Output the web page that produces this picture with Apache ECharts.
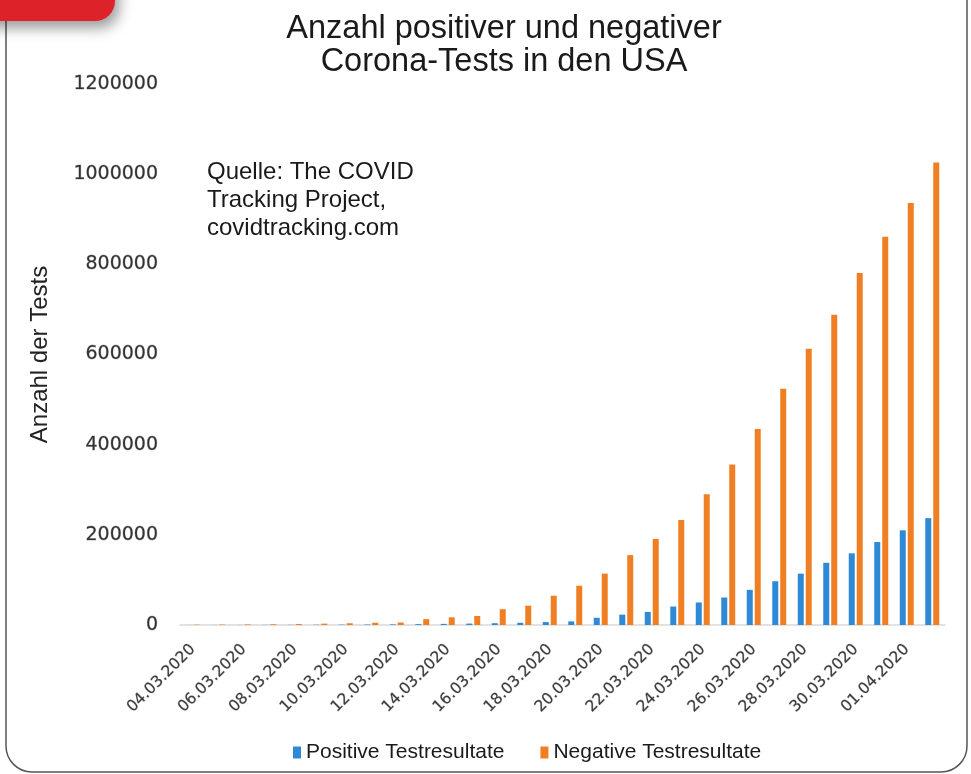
<!DOCTYPE html>
<html><head><meta charset="utf-8">
<script src="https://cdn.jsdelivr.net/npm/echarts@6/dist/echarts.min.js"></script>
<style>html,body{margin:0;padding:0;background:#fff}#c{width:971px;height:774px}</style>
</head><body><div id="c"></div>
<script>
const categories = ['04.03.2020','05.03.2020','06.03.2020','07.03.2020','08.03.2020','09.03.2020','10.03.2020','11.03.2020','12.03.2020','13.03.2020','14.03.2020','15.03.2020','16.03.2020','17.03.2020','18.03.2020','19.03.2020','20.03.2020','21.03.2020','22.03.2020','23.03.2020','24.03.2020','25.03.2020','26.03.2020','27.03.2020','28.03.2020','29.03.2020','30.03.2020','31.03.2020','01.04.2020','02.04.2020'];
const positive = [118,176,223,341,417,584,778,1053,1315,1922,2450,3173,4019,5000,6500,8000,16000,23000,29000,41000,50000,61000,78000,97000,114000,138000,159000,184000,210000,237000];
const negative = [700,900,1300,1700,2300,3000,3900,5000,5500,13000,17000,20000,35000,43000,65000,87000,114000,155000,191000,233000,290000,356000,435000,524000,613000,688000,781000,861000,936000,1026000];
const yTicks = [0,200000,400000,600000,800000,1000000,1200000];
const seriesNames = ['Positive Testresultate','Negative Testresultate'];
const titleText = 'Anzahl positiver und negativer\nCorona-Tests in den USA';
const sourceText = 'Quelle: The COVID\nTracking Project,\ncovidtracking.com';
const yName = 'Anzahl der Tests';

const chart = echarts.init(document.getElementById('c'), null, {renderer:'canvas'});
const F = '"Liberation Sans", Arial, sans-serif';
const D = '"DejaVu Sans", sans-serif';
chart.setOption({
  animation:false,
  backgroundColor:'#fff',
  grid:{left:180, right:26, top:84, bottom:149, containLabel:false},
  legend:{
    data:seriesNames, left:288, top:737, itemWidth:8, itemHeight:12, itemGap:36,
    icon:'rect', textStyle:{fontFamily:F, fontSize:21, color:'#1a1a1a'}
  },
  xAxis:{
    type:'category', data:categories,
    axisLine:{lineStyle:{color:'#d9d9d9', width:1.5}},
    axisTick:{show:false},
    axisLabel:{interval:1, rotate:45, margin:22, fontFamily:D, fontSize:15.5, color:'#3a3a3a',
      textBorderColor:'rgba(70,70,70,0.35)', textBorderWidth:0.7}
  },
  yAxis:{
    type:'value', min:yTicks[0], max:yTicks[yTicks.length-1], interval:yTicks[1]-yTicks[0],
    name:yName, nameLocation:'middle', nameGap:128,
    nameTextStyle:{fontFamily:F, fontSize:24, color:'#222'},
    axisLine:{show:false}, axisTick:{show:false}, splitLine:{show:false},
    axisLabel:{margin:22, fontFamily:D, fontSize:19, color:'#333',
      textBorderColor:'rgba(60,60,60,0.35)', textBorderWidth:0.8, formatter:v=>String(v)}
  },
  series:[
    {name:seriesNames[0], type:'bar', data:positive, barWidth:6, barGap:'33%', itemStyle:{color:'#2e8ad6'}},
    {name:seriesNames[1], type:'bar', data:negative, barWidth:6, barGap:'33%', itemStyle:{color:'#f07f24'}}
  ],
  graphic:[
    {type:'rect', z:1, silent:true, shape:{x:6, y:-40, width:961, height:812, r:26}, style:{fill:'none', stroke:'#555', lineWidth:1.5}},
    {type:'rect', z:10, silent:true, shape:{x:-30, y:-40, width:145, height:61, r:20}, style:{fill:'#de2229', shadowBlur:14, shadowColor:'rgba(0,0,0,0.4)', shadowOffsetY:7, shadowOffsetX:4}},
    {type:'text', z:5, silent:true, style:{text:titleText, x:504, y:13, fontFamily:F, fontSize:32.5, lineHeight:33, textAlign:'center', textVerticalAlign:'top', fill:'#1a1a1a'}},
    {type:'text', z:5, silent:true, style:{text:sourceText, x:207, y:158, fontFamily:F, fontSize:24, lineHeight:28, textAlign:'left', textVerticalAlign:'top', fill:'#1a1a1a'}}
  ]
});
</script></body></html>
